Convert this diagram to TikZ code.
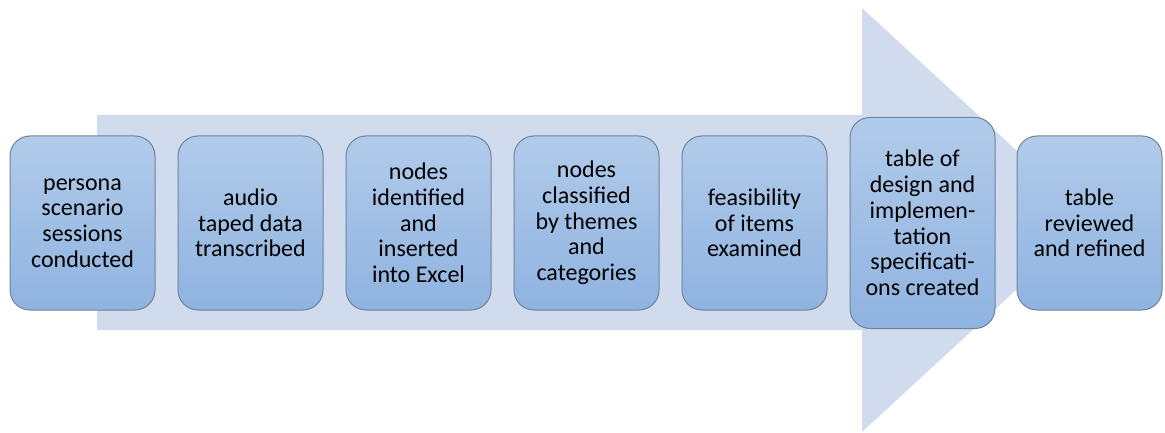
\documentclass[tikz,border=0pt]{standalone}
\usepackage{fontspec}
\setmainfont{Carlito}
\usetikzlibrary{positioning}

\definecolor{arrowblue}{HTML}{D0DCEE}
\definecolor{boxtop}{HTML}{B1CBEA}
\definecolor{boxbottom}{HTML}{8FB3E0}
\definecolor{boxline}{HTML}{6F8399}

\tikzset{
  stage/.style={draw=boxline, line width=1pt, rounded corners=20pt,
    top color=boxtop, bottom color=boxbottom,
    minimum width=145pt, minimum height=174pt, inner sep=0pt,
    align=center, font=\fontsize{24}{25.7}\selectfont}
}

\begin{document}
\begin{tikzpicture}[x=1pt, y=-1pt]
  \useasboundingbox (0,0) rectangle (1165,433);

  % big arrow behind
  \fill [arrowblue] (97,115) -- (862,115) -- (862,8) -- (1092,220)
    -- (862,432) -- (862,330) -- (97,330) -- cycle;

  % stages
  \node [stage] (s1) at (82.5,223) {persona\\scenario\\sessions\\conducted};
  \node [stage, right=22pt of s1] (s2) {audio\\taped data\\transcribed};
  \node [stage, right=22pt of s2] (s3) {nodes\\identified\\and\\inserted\\into Excel};
  \node [stage, right=22pt of s3] (s4) {nodes\\classified\\by themes\\and\\categories};
  \node [stage, right=22pt of s4] (s5) {feasibility\\of items\\examined};
  \node [stage, minimum height=211pt, right=22pt of s5] (s6)
    {table of\\design and\\implemen-\\tation\\specificati-\\ons created};
  \node [stage, right=21pt of s6] (s7) {table\\reviewed\\and refined};
\end{tikzpicture}
\end{document}
